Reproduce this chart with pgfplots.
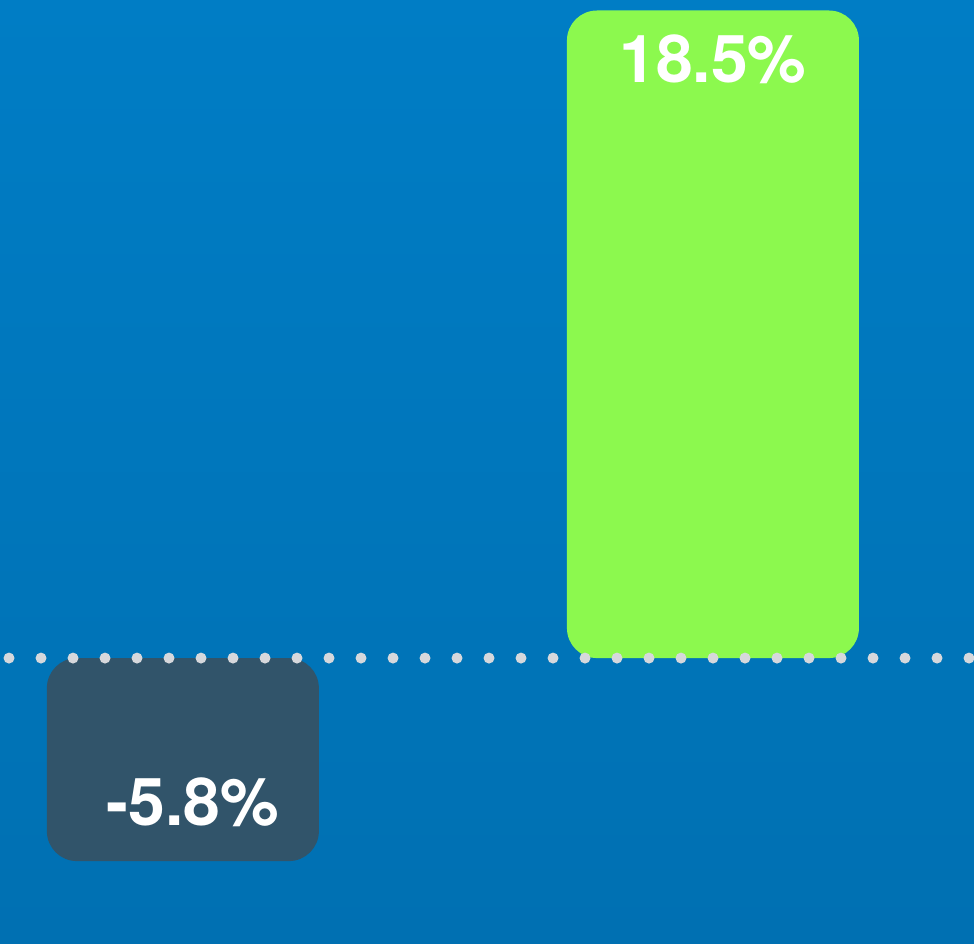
\documentclass[border=0pt]{standalone}
\usepackage{pgfplots}
\pgfplotsset{compat=1.18}
\usepackage{fontspec}
\setmainfont{TeX Gyre Heros}

\definecolor{bgtop}{HTML}{007DC5}
\definecolor{bgbot}{HTML}{0070B2}
\definecolor{greenbar}{HTML}{8CF94E}
\definecolor{slatebar}{HTML}{31546A}
\definecolor{dotgray}{HTML}{D6D8DC}

\begin{document}
\begin{tikzpicture}
\begin{axis}[
  width=487pt, height=471.5pt, scale only axis,
  xmin=-0.345, xmax=1.4925,
  ymin=-8.14, ymax=18.8,
  axis line style={draw=none}, ticks=none,
  axis background/.style={shade, top color=bgtop, bottom color=bgbot},
  ybar, bar shift=0pt,
  /pgf/number format/assume math mode=true,
  nodes near coords={\pgfmathprintnumber[fixed,precision=1]{\pgfplotspointmeta}\%},
  every node near coord/.append style={font=\fontsize{33}{33}\selectfont\bfseries, text=white, inner sep=0pt},
]
\addplot[fill=slatebar, draw=none, bar width=136pt, rounded corners=15pt,
  every node near coord/.append style={anchor=base, yshift=18pt, xshift=5pt}]
  coordinates {(0,-5.8)};
\addplot[fill=greenbar, draw=none, bar width=146pt, rounded corners=15pt,
  every node near coord/.append style={anchor=north, yshift=-12pt}]
  coordinates {(1,18.5)};
\draw[dotgray, line width=5.5pt, line cap=round, dash pattern=on 0pt off 16pt]
  (axis cs:-0.328,0) -- (axis cs:1.4833,0);
\end{axis}
\end{tikzpicture}
\end{document}
